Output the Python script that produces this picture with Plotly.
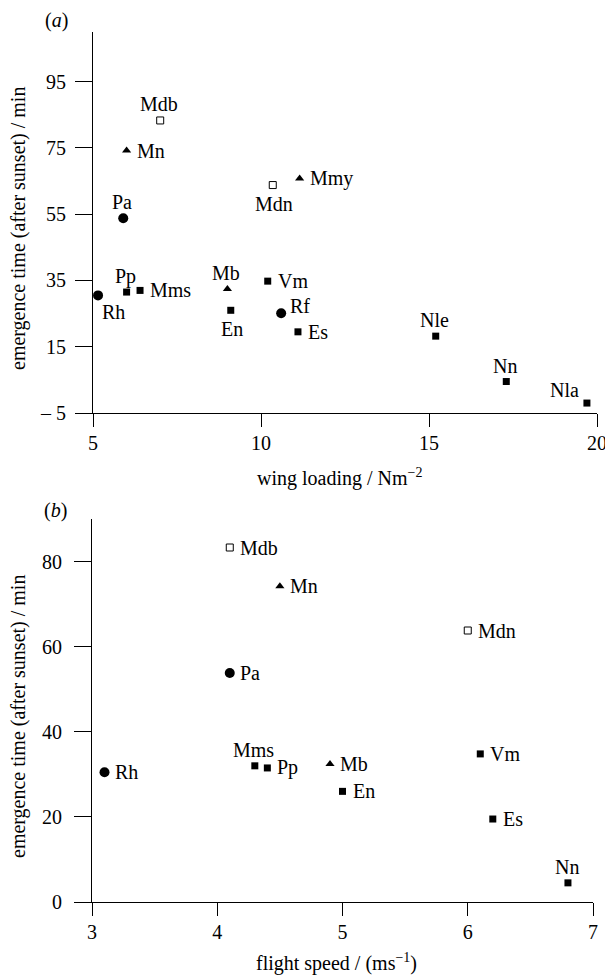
import plotly.graph_objects as go

W, H = 605, 975

species = ["Mdb", "Mn", "Pa", "Mdn", "Mmy", "Rh", "Pp", "Mms", "Mb", "En", "Vm", "Rf", "Es", "Nle", "Nn", "Nla"]
marker_kind = ["open", "tri", "circle", "open", "tri", "circle", "square", "square", "tri",
               "square", "square", "circle", "square", "square", "square", "square"]
wing_loading = [7.0, 6.0, 5.9, 10.35, 11.15, 5.15, 6.0, 6.4, 9.0, 9.1, 10.2, 10.6, 11.1, 15.2, 17.3, 19.7]
flight_speed = [4.1, 4.5, 4.1, 6.0, None, 3.1, 4.4, 4.3, 4.9, 5.0, 6.1, None, 6.2, None, 6.8, None]
emergence = [83.3, 74.2, 53.8, 63.8, 65.8, 30.5, 31.5, 32.0, 32.4, 26.0, 34.8, 25.1, 19.5, 18.2, 4.5, -2.0]

# label placement (style): where each label sits relative to its marker
label_pos_a = ["top", "right", "top", "bottom", "right", "bottomright",
               "top", "right", "top", "bottom", "right", "topright",
               "right", "top", "top", "topleft"]
label_pos_b = ["right", "right", "right", "right", None, "right",
               "right", "top", "right", "right", "right", None,
               "right", None, "top", None]

yticks_a = [-5, 15, 35, 55, 75, 95]
yticktext_a = ["– 5", "15", "35", "55", "75", "95"]
xticks_a = [5, 10, 15, 20]
yticks_b = [0, 20, 40, 60, 80]
xticks_b = [3, 4, 5, 6, 7]

FONT = "'Liberation Serif', 'Times New Roman', Times, serif"
styles = {
    "square": dict(symbol="square", size=7, color="black"),
    "open": dict(symbol="square-open", size=7, color="black", line=dict(width=1, color="black")),
    "tri": dict(symbol="triangle-up", size=8, color="black"),
    "circle": dict(symbol="circle", size=10, color="black"),
}
# (xanchor, xshift, yshift)
placement = {
    "top": ("center", -1, 16),
    "bottom": ("center", 1, -19),
    "right": ("left", 8, 0),
    "topright": ("left", 7, 7),
    "bottomright": ("left", 2, -17),
    "topleft": ("right", -6, 13),
}

fig = go.Figure()
for kind, st in styles.items():
    idx = [i for i, k in enumerate(marker_kind) if k == kind]
    fig.add_trace(go.Scatter(
        x=[wing_loading[i] for i in idx], y=[emergence[i] for i in idx],
        mode="markers", marker=st, cliponaxis=False, showlegend=False, xaxis="x", yaxis="y",
        hovertext=[species[i] for i in idx]))
    idxb = [i for i in idx if flight_speed[i] is not None]
    fig.add_trace(go.Scatter(
        x=[flight_speed[i] for i in idxb], y=[emergence[i] for i in idxb],
        mode="markers", marker=st, cliponaxis=False, showlegend=False, xaxis="x2", yaxis="y2",
        hovertext=[species[i] for i in idxb]))

lab_font = dict(family=FONT, size=20, color="black")
for i, name in enumerate(species):
    xa, xs, ys = placement[label_pos_a[i]]
    fig.add_annotation(x=wing_loading[i], y=emergence[i], xref="x", yref="y", text=name,
                       showarrow=False, xanchor=xa, yanchor="middle", xshift=xs, yshift=ys,
                       font=lab_font)
    if flight_speed[i] is not None:
        xa, xs, ys = placement[label_pos_b[i]]
        fig.add_annotation(x=flight_speed[i], y=emergence[i], xref="x2", yref="y2", text=name,
                           showarrow=False, xanchor=xa, yanchor="middle", xshift=xs, yshift=ys,
                           font=lab_font)

axis_common = dict(showline=True, linecolor="black", linewidth=1, ticks="outside",
                   tickcolor="black", tickwidth=1, showgrid=False, zeroline=False, automargin=False,
                   ticklabeloverflow="allow",
                   tickfont=dict(family=FONT, size=20, color="black"))

fig.update_layout(
    template="none",
    width=W, height=H, margin=dict(l=0, r=0, t=0, b=0, pad=0),
    paper_bgcolor="white", plot_bgcolor="white",
    font=dict(family=FONT, size=20, color="black"),
    xaxis=dict(domain=[93 / W, 597 / W], range=[5, 20], tickvals=xticks_a, ticklen=13,
               anchor="y", ticklabelstandoff=-1, **axis_common),
    yaxis=dict(domain=[1 - 413 / H, 1 - 32 / H], range=[-5, 110], tickvals=yticks_a,
               ticktext=yticktext_a, ticklen=17, anchor="x", ticklabelstandoff=5, **axis_common),
    xaxis2=dict(domain=[92 / W, 593 / W], range=[3, 7], tickvals=xticks_b, ticklen=13,
                anchor="y2", ticklabelstandoff=-1, **axis_common),
    yaxis2=dict(domain=[1 - 902 / H, 1 - 519 / H], range=[0, 90], tickvals=yticks_b,
                ticklen=17, anchor="x2", ticklabelstandoff=8, **axis_common),
)

ann = dict(xref="paper", yref="paper", showarrow=False, font=dict(family=FONT, size=20, color="black"))
fig.add_annotation(text="(<i>a</i>)", x=56 / W, y=1 - 20 / H, xanchor="center", yanchor="middle", **ann)
fig.add_annotation(text="(<i>b</i>)", x=55 / W, y=1 - 510 / H, xanchor="center", yanchor="middle", **ann)
fig.add_annotation(text="emergence time (after sunset) / min", x=18 / W, y=1 - 229 / H, textangle=-90,
                   xanchor="center", yanchor="middle", **ann)
fig.add_annotation(text="emergence time (after sunset) / min", x=18 / W, y=1 - 717 / H, textangle=-90,
                   xanchor="center", yanchor="middle", **ann)
fig.add_annotation(text="wing loading / Nm<sup>−2</sup>", x=339 / W, y=1 - 477 / H,
                   xanchor="center", yanchor="middle", **ann)
fig.add_annotation(text="flight speed / (ms<sup>−1</sup>)", x=336 / W, y=1 - 962 / H,
                   xanchor="center", yanchor="middle", **ann)

fig.write_html("out.html", config={"displayModeBar": False},
               post_script="document.body.style.margin='0';document.body.style.overflow='hidden';")
